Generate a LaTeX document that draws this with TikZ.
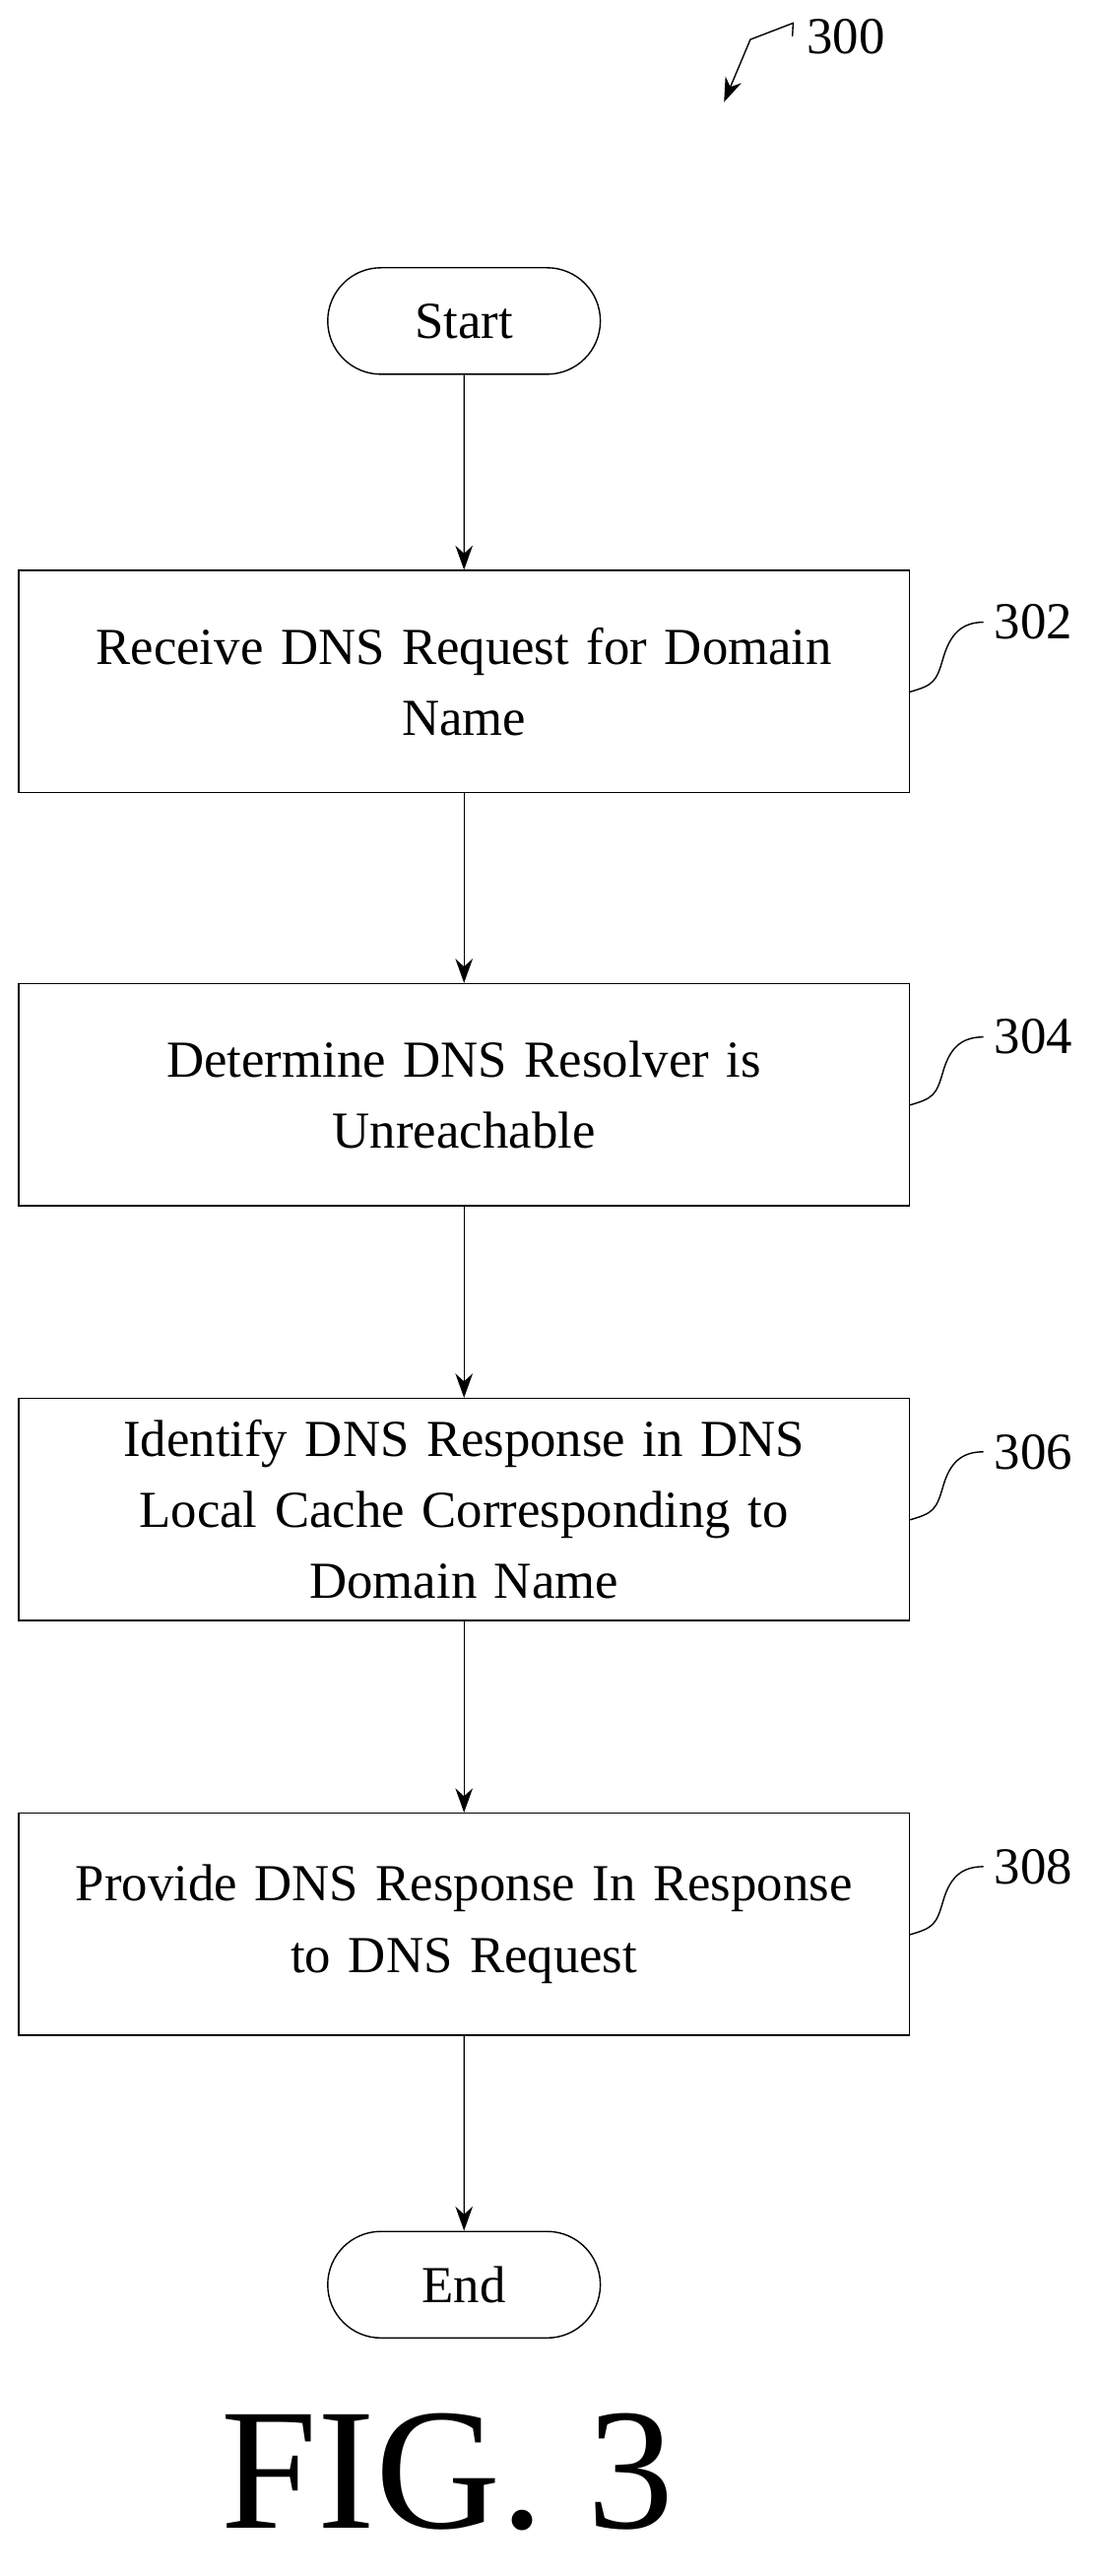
\documentclass[tikz,border=0pt]{standalone}
\usepackage{fontspec}
\setmainfont{Liberation Serif}
\usetikzlibrary{arrows.meta, positioning, shapes.misc}

\begin{document}
\begin{tikzpicture}[x=0.0167cm, y=-0.0167cm,
    every node/.style={font=\fontsize{15}{20.5}\selectfont},
    stepbox/.style={draw, minimum width=9cm, minimum height=2.25cm, align=center, text width=8.8cm},
    term/.style={draw, rounded rectangle, minimum width=3cm, minimum height=1.08cm},
    flow/.style={-{Stealth[length=7pt, width=5pt]}}]
    \useasboundingbox (0,0) rectangle (668,1565);

    % Define nodes
    \node[term] (start) at (282,195) {Start};
    \node[stepbox] (receive) at (282,414) {Receive DNS Request for Domain\\Name};
    \node[stepbox] (determine) at (282,665) {Determine DNS Resolver is\\Unreachable};
    \node[stepbox] (identify) at (282,917) {Identify DNS Response in DNS\\Local Cache Corresponding to\\Domain Name};
    \node[stepbox] (provide) at (282,1169) {Provide DNS Response In Response\\to DNS Request};
    \node[term] (end) at (282,1388) {End};

    % Define reference labels on the right side
    \node[anchor=west, inner sep=0pt] (label302) at (604,378) {302};
    \node[anchor=west, inner sep=0pt] (label304) at (604,630) {304};
    \node[anchor=west, inner sep=0pt] (label306) at (604,882) {306};
    \node[anchor=west, inner sep=0pt] (label308) at (604,1134) {308};
    \node[anchor=west, inner sep=0pt] (label300) at (490,22) {300};
    \node[font=\fontsize{50}{55}\selectfont] (fig) at (272,1502) {FIG. 3};

    % Draw arrows between the steps
    \draw[flow] (start) -- (receive);
    \draw[flow] (receive) -- (determine);
    \draw[flow] (determine) -- (identify);
    \draw[flow] (identify) -- (provide);
    \draw[flow] (provide) -- (end);

    % Squiggles from the boxes to their labels
    \foreach \stepname/\lab in {receive/label302, determine/label304, identify/label306, provide/label308}
        \draw ([yshift=-3pt]\stepname.east) .. controls +(14,-4) and +(-4,14) .. ++(20,-20)
            .. controls +(4,-14) and +(-14,0) .. ([xshift=-3pt]\lab.west);

    % Arrow for the figure number
    \coordinate (tip300) at (440,62);
    \draw[flow] ([xshift=-4pt]label300.west) -- (482,14) -- (456,24) -- (tip300);
\end{tikzpicture}
\end{document}
